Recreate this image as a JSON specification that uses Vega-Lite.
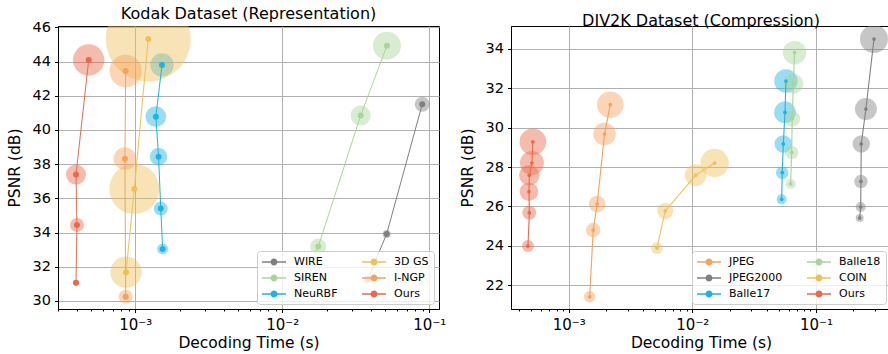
{
  "$schema": "https://vega.github.io/schema/vega-lite/v6.json",
  "padding": {"left": 6, "top": 5, "right": 0, "bottom": 0},
  "background": "white",
  "spacing": 12,
  "config": {
    "font": "DejaVu Sans",
    "view": {"stroke": "black", "strokeWidth": 1},
    "axis": {"domainColor": "black", "tickColor": "black", "labelColor": "black", "titleColor": "black", "labelFontSize": 14.5, "titleFontSize": 15.5, "titleFontWeight": "normal", "tickSize": 3.5, "gridColor": "#b0b0b0", "gridWidth": 1},
    "title": {"fontSize": 16, "fontWeight": "normal", "anchor": "middle", "baseline": "alphabetic", "offset": -3, "color": "black"},
    "legend": {"title": null, "orient": "bottom-right", "offset": 5, "columns": 2, "fillColor": "rgba(255,255,255,0.8)", "strokeColor": "#cccccc", "cornerRadius": 3, "padding": 5, "symbolType": "M-1,-0.125H3V0.125H-1Z M0.417,0A0.583,0.583 0 1,1 1.583,0A0.583,0.583 0 1,1 0.417,0Z", "symbolSize": 144, "symbolStrokeWidth": 0, "labelFontSize": 11, "labelOffset": 20, "rowPadding": 5, "columnPadding": 24, "labelColor": "black", "symbolOpacity": 1}
  },
  "datasets": {
    "kodak": [
      {"method": "WIRE", "time": 0.0381, "psnr": 31.27, "footprint": 16},
      {"method": "WIRE", "time": 0.0513, "psnr": 33.92, "footprint": 16},
      {"method": "WIRE", "time": 0.0895, "psnr": 41.50, "footprint": 56},
      {"method": "SIREN", "time": 0.01385, "psnr": 31.23, "footprint": 25},
      {"method": "SIREN", "time": 0.01757, "psnr": 33.18, "footprint": 64},
      {"method": "SIREN", "time": 0.0341, "psnr": 40.84, "footprint": 100},
      {"method": "SIREN", "time": 0.0515, "psnr": 44.93, "footprint": 196},
      {"method": "NeuRBF", "time": 0.001535, "psnr": 33.04, "footprint": 30},
      {"method": "NeuRBF", "time": 0.00149, "psnr": 35.40, "footprint": 49},
      {"method": "NeuRBF", "time": 0.00144, "psnr": 38.44, "footprint": 77},
      {"method": "NeuRBF", "time": 0.00138, "psnr": 40.78, "footprint": 106},
      {"method": "NeuRBF", "time": 0.00152, "psnr": 43.80, "footprint": 137},
      {"method": "3D GS", "time": 0.000865, "psnr": 31.68, "footprint": 246},
      {"method": "3D GS", "time": 0.000985, "psnr": 36.55, "footprint": 625},
      {"method": "3D GS", "time": 0.001225, "psnr": 45.32, "footprint": 1806},
      {"method": "I-NGP", "time": 0.00086, "psnr": 30.25, "footprint": 49},
      {"method": "I-NGP", "time": 0.00085, "psnr": 38.32, "footprint": 128},
      {"method": "I-NGP", "time": 0.00086, "psnr": 43.45, "footprint": 262},
      {"method": "Ours", "time": 0.000395, "psnr": 31.07, "footprint": 9},
      {"method": "Ours", "time": 0.000401, "psnr": 34.44, "footprint": 49},
      {"method": "Ours", "time": 0.000395, "psnr": 37.39, "footprint": 100},
      {"method": "Ours", "time": 0.000482, "psnr": 44.09, "footprint": 246}
    ],
    "div2k": [
      {"method": "JPEG", "time": 0.001479, "psnr": 21.42, "footprint": 32},
      {"method": "JPEG", "time": 0.00158, "psnr": 24.80, "footprint": 53},
      {"method": "JPEG", "time": 0.0017, "psnr": 26.12, "footprint": 69},
      {"method": "JPEG", "time": 0.00195, "psnr": 29.67, "footprint": 128},
      {"method": "JPEG", "time": 0.00217, "psnr": 31.16, "footprint": 177},
      {"method": "JPEG2000", "time": 0.2253, "psnr": 25.41, "footprint": 16},
      {"method": "JPEG2000", "time": 0.2296, "psnr": 25.97, "footprint": 25},
      {"method": "JPEG2000", "time": 0.2307, "psnr": 27.27, "footprint": 45},
      {"method": "JPEG2000", "time": 0.232, "psnr": 29.17, "footprint": 76},
      {"method": "JPEG2000", "time": 0.253, "psnr": 30.94, "footprint": 121},
      {"method": "JPEG2000", "time": 0.294, "psnr": 34.49, "footprint": 196},
      {"method": "Balle17", "time": 0.0527, "psnr": 26.36, "footprint": 25},
      {"method": "Balle17", "time": 0.0533, "psnr": 27.71, "footprint": 40},
      {"method": "Balle17", "time": 0.0544, "psnr": 29.17, "footprint": 77},
      {"method": "Balle17", "time": 0.0561, "psnr": 30.77, "footprint": 117},
      {"method": "Balle17", "time": 0.0571, "psnr": 32.36, "footprint": 137},
      {"method": "Balle18", "time": 0.0624, "psnr": 27.14, "footprint": 25},
      {"method": "Balle18", "time": 0.0635, "psnr": 28.74, "footprint": 45},
      {"method": "Balle18", "time": 0.0642, "psnr": 30.45, "footprint": 64},
      {"method": "Balle18", "time": 0.0655, "psnr": 32.22, "footprint": 100},
      {"method": "Balle18", "time": 0.0671, "psnr": 33.80, "footprint": 137},
      {"method": "COIN", "time": 0.00518, "psnr": 23.89, "footprint": 34},
      {"method": "COIN", "time": 0.00604, "psnr": 25.77, "footprint": 64},
      {"method": "COIN", "time": 0.01064, "psnr": 27.59, "footprint": 117},
      {"method": "COIN", "time": 0.01514, "psnr": 28.20, "footprint": 202},
      {"method": "Ours", "time": 0.000469, "psnr": 23.99, "footprint": 36},
      {"method": "Ours", "time": 0.000481, "psnr": 25.68, "footprint": 49},
      {"method": "Ours", "time": 0.000478, "psnr": 26.75, "footprint": 86},
      {"method": "Ours", "time": 0.000481, "psnr": 27.58, "footprint": 106},
      {"method": "Ours", "time": 0.000505, "psnr": 28.20, "footprint": 144},
      {"method": "Ours", "time": 0.000514, "psnr": 29.28, "footprint": 177}
    ]
  },
  "hconcat": [
    {
      "title": "Kodak Dataset (Representation)",
      "width": 381,
      "height": 283,
      "data": {"name": "kodak"},
      "encoding": {
        "x": {"field": "time", "type": "quantitative",
          "scale": {"type": "log", "domain": [0.000298, 0.1164], "nice": false},
          "axis": {"title": "Decoding Time (s)", "grid": true,
            "values": [0.0003, 0.0004, 0.0005, 0.0006, 0.0007, 0.0008, 0.0009, 0.001, 0.002, 0.003, 0.004, 0.005, 0.006, 0.007, 0.008, 0.009, 0.01, 0.02, 0.03, 0.04, 0.05, 0.06, 0.07, 0.08, 0.09, 0.1],
            "labelExpr": "datum.value == 0.001 ? '10⁻³' : datum.value == 0.01 ? '10⁻²' : datum.value == 0.1 ? '10⁻¹' : ''",
            "tickSize": {"condition": {"test": "datum.value == 0.001 || datum.value == 0.01 || datum.value == 0.1", "value": 3.5}, "value": 2},
            "gridOpacity": {"condition": {"test": "datum.value == 0.001 || datum.value == 0.01 || datum.value == 0.1", "value": 1}, "value": 0},
            "labelFontSize": 15, "labelPadding": 5, "titlePadding": 3, "labelFlush": false, "labelOverlap": false}},
        "y": {"field": "psnr", "type": "quantitative",
          "scale": {"domain": [29.53, 46.08], "nice": false, "zero": false},
          "axis": {"title": "PSNR (dB)", "values": [30, 32, 34, 36, 38, 40, 42, 44, 46], "grid": true, "labelPadding": 4, "titlePadding": 10}},
        "color": {"field": "method", "type": "nominal", "scale": {"domain": ["WIRE", "SIREN", "NeuRBF", "3D GS", "I-NGP", "Ours"], "range": ["#808080", "#a9d59a", "#1fb3e3", "#eec05a", "#f4a25e", "#e86a4c"]}}
      },
      "layer": [
        {"mark": {"type": "circle", "opacity": 0.45, "clip": true},
         "encoding": {
           "size": {"field": "footprint", "type": "quantitative", "scale": {"domain": [0, 100], "range": [0, 400], "zero": true, "nice": false}, "legend": null}}},
        {"mark": {"type": "line", "strokeWidth": 1, "clip": true},
         "encoding": {"order": {"field": "psnr", "type": "quantitative"}}},
        {"mark": {"type": "circle", "opacity": 1, "size": 36, "clip": true}}
      ]
    },
    {
      "title": "DIV2K Dataset (Compression)",
      "width": 380,
      "height": 283,
      "data": {"name": "div2k"},
      "encoding": {
        "x": {"field": "time", "type": "quantitative",
          "scale": {"type": "log", "domain": [0.000342, 0.4036], "nice": false},
          "axis": {"title": "Decoding Time (s)", "grid": true,
            "values": [0.0004, 0.0005, 0.0006, 0.0007, 0.0008, 0.0009, 0.001, 0.002, 0.003, 0.004, 0.005, 0.006, 0.007, 0.008, 0.009, 0.01, 0.02, 0.03, 0.04, 0.05, 0.06, 0.07, 0.08, 0.09, 0.1, 0.2, 0.3, 0.4],
            "labelExpr": "datum.value == 0.001 ? '10⁻³' : datum.value == 0.01 ? '10⁻²' : datum.value == 0.1 ? '10⁻¹' : ''",
            "tickSize": {"condition": {"test": "datum.value == 0.001 || datum.value == 0.01 || datum.value == 0.1", "value": 3.5}, "value": 2},
            "gridOpacity": {"condition": {"test": "datum.value == 0.001 || datum.value == 0.01 || datum.value == 0.1", "value": 1}, "value": 0},
            "labelFontSize": 15, "labelPadding": 5, "titlePadding": 3, "labelFlush": false, "labelOverlap": false}},
        "y": {"field": "psnr", "type": "quantitative",
          "scale": {"domain": [20.8, 35.15], "nice": false, "zero": false},
          "axis": {"title": "PSNR (dB)", "values": [22, 24, 26, 28, 30, 32, 34], "grid": true, "labelPadding": 4, "titlePadding": 10}},
        "color": {"field": "method", "type": "nominal", "scale": {"domain": ["JPEG", "JPEG2000", "Balle17", "Balle18", "COIN", "Ours"], "range": ["#f4a25e", "#808080", "#1fb3e3", "#a9d59a", "#eec05a", "#e86a4c"]}}
      },
      "layer": [
        {"mark": {"type": "circle", "opacity": 0.45, "clip": true},
         "encoding": {
           "size": {"field": "footprint", "type": "quantitative", "scale": {"domain": [0, 100], "range": [0, 400], "zero": true, "nice": false}, "legend": null}}},
        {"mark": {"type": "line", "strokeWidth": 1.1, "clip": true},
         "encoding": {"order": {"field": "psnr", "type": "quantitative"}}},
        {"mark": {"type": "circle", "opacity": 1, "size": 14, "clip": true}}
      ]
    }
  ],
  "resolve": {"scale": {"color": "independent", "size": "independent", "x": "independent", "y": "independent"}, "legend": {"color": "independent"}}
}
